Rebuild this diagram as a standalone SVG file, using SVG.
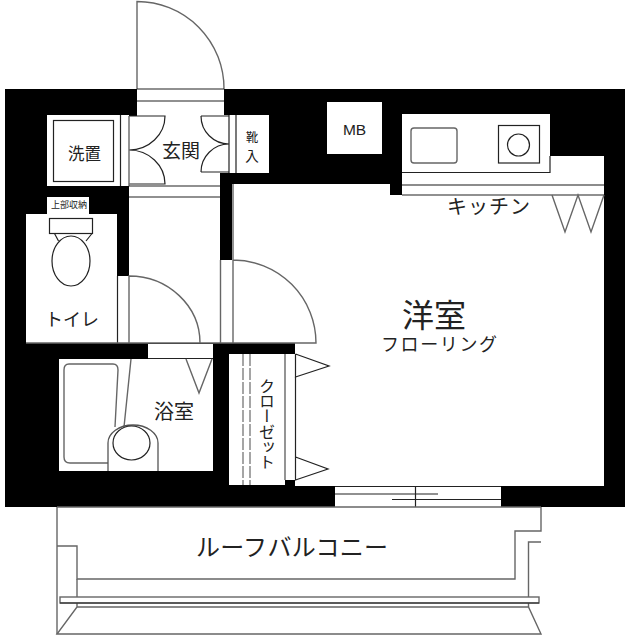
<svg xmlns="http://www.w3.org/2000/svg" width="630" height="640" viewBox="0 0 630 640">
<style>
.w{fill:#fff;stroke:none}
.l{fill:none;stroke:#222;stroke-width:1.2}
.g{fill:none;stroke:#666;stroke-width:1.4}
.g2{fill:#fff;stroke:#555;stroke-width:1.3}
.d{fill:none;stroke:#888;stroke-width:1.5;stroke-dasharray:12 2}
text{font-family:"Noto Sans CJK JP","Liberation Sans",sans-serif;fill:#222}
</style>
<rect width="630" height="640" fill="#fff"/>
<rect x="5" y="89" width="620" height="418" fill="#000"/>
<polygon class="w" points="232,184 390,184 390,195 402,195 402,114 550,114 550,156 604,156 604,486 295,486 295,343 232,343"/>
<polygon class="w" points="137,89 224,89 224,115 269,115 269,173 220,173 220,343 129,343 129,116 137,116"/>
<rect class="w" x="220" y="260" width="13" height="83"/>
<rect class="w" x="47" y="115" width="82" height="71"/>
<rect class="w" x="26" y="214" width="91" height="129"/>
<rect class="w" x="47" y="197" width="42" height="17"/>
<rect class="w" x="117" y="276" width="12" height="67"/>
<rect class="w" x="59" y="359" width="154" height="112"/>
<rect class="w" x="148" y="344" width="65" height="15"/>
<rect class="w" x="229" y="354" width="66" height="131"/>
<rect x="285" y="480" width="10" height="7" fill="#000"/>
<rect class="w" x="327" y="102" width="55" height="52"/>
<rect class="w" x="335" y="487" width="166" height="20"/>

<g id="entry">
<path class="g" d="M137 89V1.500A87 87 0 0 1 224 89"/>
<path class="l" d="M137 89H224M137 101H224"/>
<path class="l" d="M129 116H165A36 34 0 0 1 129 150A36 34 0 0 1 165 184H129"/>
<path class="g" d="M129 116V186"/>
<path class="l" d="M201 116H229M201 172H229"/>
<path class="l" d="M201 116A28 28 0 0 0 229 144A28 28 0 0 0 201 172"/>
<path class="l" d="M229 115V173M236 115V173"/>
<path class="l" d="M129 186H220M129 197H220"/>
<text x="162" y="158" font-size="19">玄関</text>
<text x="252" y="142" font-size="12.500" text-anchor="middle">靴</text>
<text x="252" y="161" font-size="13.500" text-anchor="middle">入</text>
</g>
<g id="wash">
<rect class="l" x="53.500" y="120.500" width="60" height="61"/>
<path class="l" d="M120.500 115V186"/>
<text x="68" y="160" font-size="16.500">洗置</text>
</g>
<g id="toilet">
<text x="51" y="208" font-size="9">上部収納</text>
<rect class="l" x="49.500" y="218.500" width="43" height="15"/>
<path class="l" d="M54.500 233.500L58.500 241M92 233.500L86 241"/>
<ellipse class="l" cx="71" cy="261" rx="19" ry="25" style="fill:#fff"/>
<path class="l" d="M117.500 276V343"/>
<path class="g" d="M129 343V276A71 67 0 0 1 200 343M26 343H220"/>
<text x="45" y="326" font-size="18" textLength="54">トイレ</text>
</g>
<g id="bath">
<path class="l" d="M148 358.500H213"/>
<path class="g" d="M131 359L124 427M186 359L199 393L212 359"/>
<path class="g" d="M69 364H113Q118 364 118 370L115 427M108 463H70Q64 463 64 457V370Q64 364 69 364"/>
<path class="g2" d="M108 471V443A25 18 0 0 1 158 443V471"/>
<ellipse class="l" cx="131.500" cy="443" rx="18.500" ry="17"/>
<text x="154" y="419" font-size="20">浴室</text>
</g>
<g id="closet">
<path class="d" d="M243 354V485M250 354V485"/>
<path class="g" d="M285 354V480"/>
<path class="l" d="M295.500 354V377L329 366L295.500 354M295.500 457V480L328 469L295.500 457"/>
<path class="l" d="M295.500 377V457"/>
<text x="267" y="378" font-size="16" style="writing-mode:vertical-rl" textLength="92">クローゼット</text>
</g>
<g id="kitchen">
<path class="l" d="M402 172.500H550V156"/>
<path class="g" d="M402 185H604"/>
<path class="l" d="M402 195H604"/>
<rect class="g" x="411" y="128" width="46" height="35" rx="3"/>
<rect class="l" x="498.500" y="125.500" width="41" height="37.500"/>
<circle class="l" cx="518.500" cy="145" r="11"/>
<path class="g" d="M552 195L565 232L578 195L591 232L604 195"/>
<text x="447" y="214" font-size="20" textLength="83">キッチン</text>
</g>
<g id="mb"><text x="354.500" y="134.500" font-size="15.500" text-anchor="middle" style="font-family:'Liberation Sans',sans-serif">MB</text></g>
<g id="room">
<path class="g" d="M220.500 260V343M233 184V343M233 260A83 83 0 0 1 316 343H220"/>
<text x="402" y="327" font-size="32">洋室</text>
<text x="381" y="351" font-size="18" textLength="116">フローリング</text>
</g>
<g id="window">
<path class="l" d="M335 486.500H501M335 494H438M392 499.500H501M415.500 486V507"/>
</g>
<g id="balcony">
<path class="g" d="M57 507V634M541 507V531H515V579H77V546H57M541 542H528.500V607"/>
<path class="g" d="M77 579V607L57 634H541L528.500 607H77"/>
<rect x="60" y="597" width="479" height="6" fill="#fff" stroke="#666" stroke-width="1.400"/>
<path class="l" d="M60 603H539"/>
<path class="g" d="M57 507H541"/>
<text x="196" y="556" font-size="24" textLength="192">ルーフバルコニー</text>
</g>
</svg>
